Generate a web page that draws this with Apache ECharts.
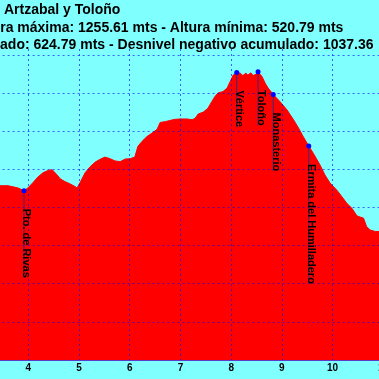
<!DOCTYPE html>
<html>
<head>
<meta charset="utf-8">
<script src="https://cdn.jsdelivr.net/npm/echarts@6/dist/echarts.min.js"></script>
<style>
html,body{margin:0;padding:0;background:#80FFFF;}
#chart{width:379px;height:379px;}
</style>
</head>
<body>
<div id="chart"></div>
<script>
// Distance (km) along the route
const distances = [3.40, 3.44, 3.60, 3.70, 3.80, 3.915, 3.99, 4.09, 4.19, 4.29, 4.39, 4.47, 4.49, 4.57, 4.63, 4.72, 4.82, 4.92, 4.96,
  5.02, 5.12, 5.22, 5.32, 5.41, 5.51, 5.61, 5.71, 5.81, 5.91, 6.01, 6.10, 6.16, 6.24, 6.34, 6.44, 6.54, 6.60, 6.70, 6.79, 6.89, 6.99,
  7.13, 7.23, 7.29, 7.35, 7.45, 7.54, 7.62, 7.68, 7.74, 7.84, 7.92, 7.98, 8.04, 8.11, 8.18, 8.23, 8.29, 8.33, 8.39, 8.43, 8.49, 8.53,
  8.61, 8.67, 8.73, 8.83, 8.96, 9.10, 9.23, 9.33, 9.42, 9.53, 9.62, 9.75, 9.85, 9.95, 10.08, 10.18, 10.28, 10.38, 10.48, 10.54, 10.61,
  10.67, 10.74, 10.84, 10.92, 11.0];
// Elevation (m)
const elevations = [957, 957, 957, 954, 951, 944, 951, 965, 980, 991, 997, 999, 994, 985, 975, 968, 962, 955, 951,
  965, 991, 1007, 1019, 1026, 1032, 1028, 1022, 1020, 1027, 1028, 1032, 1060, 1073, 1086, 1095, 1105, 1123, 1125, 1128, 1131, 1132,
  1132, 1130, 1134, 1145, 1150, 1160, 1178, 1191, 1200, 1204, 1213, 1230, 1247, 1254, 1252, 1246, 1252, 1247, 1253, 1246, 1249, 1255.61,
  1243, 1226, 1213, 1196, 1178, 1156, 1130, 1108, 1086, 1061, 1042, 1012, 985, 964, 946, 929, 911, 898, 878, 875, 872,
  850, 841, 837, 837, 835];

// Waypoints
const wpNames = ['Pto. de Rivas', 'Vértice', 'Toloño', 'Monasterio', 'Ermita del Humilladero'];
const wpKm = [3.915, 8.11, 8.53, 8.83, 9.53];
const wpElev = [944, 1254, 1255.61, 1196, 1061];

// Title lines
const titleLine1 = 'Artzabal y Toloño';
const titleLine2 = 'Altura máxima: 1255.61 mts - Altura mínima: 520.79 mts';
const titleLine3 = 'Desnivel positivo acumulado: 624.79 mts - Desnivel negativo acumulado: 1037.36';

const profile = distances.map((d, i) => [d, elevations[i]]);
const waypoints = wpKm.map((d, i) => [d, wpElev[i], wpNames[i]]);

const LABEL_FONT = 'bold 11px Arial';
const measureCtx = document.createElement('canvas').getContext('2d');
measureCtx.font = LABEL_FONT;

const chart = echarts.init(document.getElementById('chart'), null, {renderer: 'canvas'});
const gridColor = 'rgba(0,0,255,0.6)';

chart.setOption({
  backgroundColor: '#80FFFF',
  animation: false,
  grid: {left: -22.4, right: -4.3, top: 49, bottom: 19, containLabel: false, outerBoundsMode: 'none'},
  xAxis: {
    type: 'value', min: 3, max: 11, interval: 1, z: 3,
    axisLine: {show: true, lineStyle: {color: '#5a3cc8', width: 1}},
    axisTick: {show: false},
    axisLabel: {show: true, color: '#000', fontWeight: 'bold', fontSize: 10, fontFamily: 'Arial', margin: 3},
    splitLine: {show: true, lineStyle: {color: gridColor, type: [2, 3], width: 1}}
  },
  yAxis: {
    type: 'value', min: 500, max: 1315.5, interval: 100, z: 3,
    axisLine: {show: false}, axisTick: {show: false}, axisLabel: {show: false},
    splitLine: {show: true, showMaxLine: false, showMinLine: false, lineStyle: {color: gridColor, type: [2, 3], width: 1}}
  },
  graphic: [
    {type: 'text', left: 4, top: 3, style: {text: titleLine1, font: 'bold 14px Arial', fill: '#000'}},
    {type: 'text', x: -27, y: 21, style: {text: titleLine2, font: 'bold 14px Arial', fill: '#000'}},
    {type: 'text', x: -168, y: 38, style: {text: titleLine3, font: 'bold 14px Arial', fill: '#000'}}
  ],
  series: [
    {
      type: 'line', data: profile, symbol: 'none', z: 2,
      lineStyle: {color: '#FF0000', width: 1},
      areaStyle: {color: '#FF0000', opacity: 1}
    },
    {
      type: 'custom', data: waypoints, z: 10,
      renderItem: function (params, api) {
        const p = api.coord([api.value(0), api.value(1)]);
        const name = wpNames[params.dataIndex];
        const off = 18;
        const w = measureCtx.measureText(name).width;
        return {
          type: 'group',
          children: [
            {type: 'line', shape: {x1: p[0], y1: p[1], x2: p[0], y2: p[1] + off + w},
             style: {stroke: '#3a2a7a', lineWidth: 1}},
            {type: 'text', x: p[0] + 2.5, y: p[1] + off, rotation: -Math.PI / 2,
             style: {text: name, font: LABEL_FONT, fill: '#000', align: 'left', verticalAlign: 'middle'}},
            {type: 'circle', shape: {cx: p[0], cy: p[1], r: 2.5}, style: {fill: '#0000FF'}}
          ]
        };
      }
    }
  ]
});
</script>
</body>
</html>
